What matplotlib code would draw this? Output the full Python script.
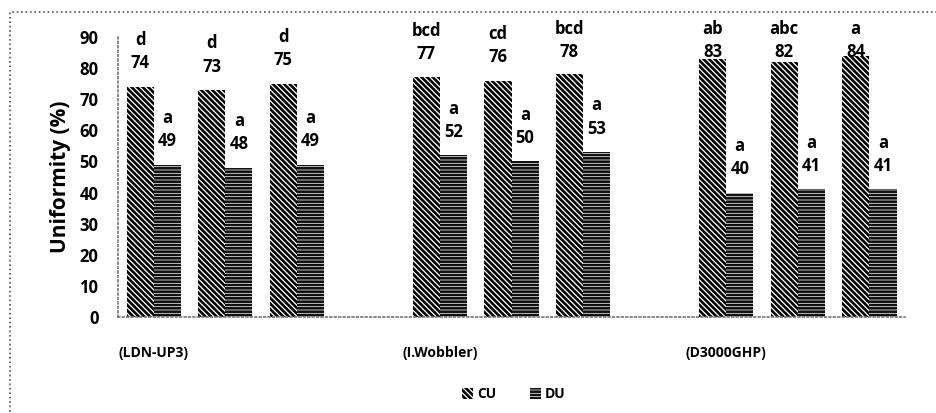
import numpy as np
import matplotlib.pyplot as plt
from matplotlib.patches import Rectangle

# 11 slots, empty ones separate the three sprinkler groups
slot_labels = ["(LDN-UP3)", "", "", "", "(I.Wobbler)", "", "", "", "(D3000GHP)", "", ""]
cu_values = [74, 73, 75, None, 77, 76, 78, None, 83, 82, 84]
du_values = [49, 48, 49, None, 52, 50, 53, None, 40, 41, 41]
cu_letters = ["d", "d", "d", "", "bcd", "cd", "bcd", "", "ab", "abc", "a"]
du_letters = ["a", "a", "a", "", "a", "a", "a", "", "a", "a", "a"]

plt.rcParams['font.family'] = ['Open Sans', 'DejaVu Sans']
plt.rcParams['hatch.linewidth'] = 1.9

fig = plt.figure(figsize=(9.36, 4.13), dpi=100)
ax = fig.add_axes([0.126, 0.2325, 0.841, 0.678])

x = np.arange(len(slot_labels))
w = 0.38
idx = [i for i, v in enumerate(cu_values) if v is not None]
cu = [cu_values[i] for i in idx]
du = [du_values[i] for i in idx]
xi = x[idx]

b1 = ax.bar(xi - w / 2, cu, w, color='white', edgecolor='black', hatch='\\' * 6, linewidth=0, label='CU')
b2 = ax.bar(xi + w / 2, du, w, color='white', edgecolor='#111111', hatch='-----', linewidth=0, label='DU')

# value and letter labels sit above the bar, but are pushed down near the top of the plot
for j, i in enumerate(idx):
    for xx, v, lt in [(xi[j] - w / 2, cu[j], cu_letters[i]), (xi[j] + w / 2, du[j], du_letters[i])]:
        ax.text(xx, min(v + 7.5, 85.2), str(v), ha='center', va='center', fontsize=12, fontweight='bold')
        ax.text(xx, min(v + 15, 92.5), lt, ha='center', va='center', fontsize=12, fontweight='bold')

ax.set_xlim(-0.5, 10.5)
ax.set_ylim(0, 90)
ax.set_yticks(range(0, 91, 10))
ax.set_xticks(x)
ax.set_xticklabels(slot_labels, fontsize=10, fontweight='bold')
ax.tick_params(length=0)
ax.tick_params(axis='y', pad=14, labelsize=12)
ax.tick_params(axis='x', pad=21)
for lab in ax.get_yticklabels():
    lab.set_fontweight('bold')
ax.set_ylabel('Uniformity (%)', fontsize=15, fontweight='bold', labelpad=6)

for s in ['top', 'right']:
    ax.spines[s].set_visible(False)
for s in ['left', 'bottom']:
    ax.spines[s].set_color('#777777')
    ax.spines[s].set_linestyle(':')
    ax.spines[s].set_linewidth(1.2)

fig.legend(handles=[b1, b2], loc='center', bbox_to_anchor=(0.549, 0.045), ncol=2, frameon=False,
           handlelength=0.8, handleheight=0.8, columnspacing=2.4, handletextpad=0.3,
           prop={'weight': 'bold', 'size': 10})

fig.patches.append(Rectangle((0.011, -0.1), 1.1, 1.07, transform=fig.transFigure, fill=False,
                             edgecolor='#555555', linewidth=1.2, linestyle=':'))

fig.savefig('out.png', dpi=100)
